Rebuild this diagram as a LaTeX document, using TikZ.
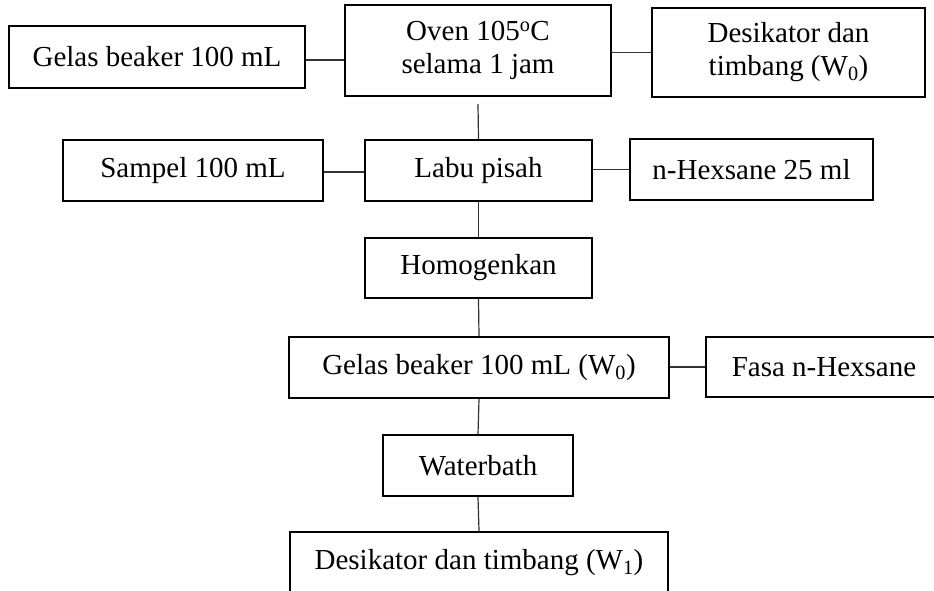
\documentclass[tikz,border=0pt]{standalone}
\usepackage{fontspec}
\setmainfont{Liberation Serif}
\begin{document}
\begin{tikzpicture}[x=1pt,y=-1pt,
  box/.style={draw, line width=2.4pt, inner sep=0pt, font=\fontsize{29}{33}\selectfont, align=center},
  conn/.style={line width=1.2pt, draw=black!80}]
\clip (0,0) rectangle (934,591);
\path[use as bounding box] (0,0) rectangle (934,591);
% row 1
\node[box, minimum width=296pt, minimum height=62pt] (g1) at (157,57) {Gelas beaker 100 mL};
\node[box, minimum width=266pt, minimum height=91pt] (oven) at (478,50.5) {Oven 105\textsuperscript{o}C\\selama 1 jam};
\node[box, minimum width=273pt, minimum height=89pt] (des0) at (788.5,52.5) {Desikator dan\\timbang (W\textsubscript{0})};
% row 2
\node[box, minimum width=260pt, minimum height=61pt] (sampel) at (193,170.5) {Sampel 100 mL};
\node[box, minimum width=227pt, minimum height=61pt] (labu) at (478.5,170.5) {Labu pisah};
\node[box, minimum width=243pt, minimum height=61pt] (hex) at (751.5,169.5) {n-Hexsane 25 ml};
% row 3
\node[box, minimum width=227pt, minimum height=60pt] (homo) at (478.5,268) {Homogenkan};
% row 4
\node[box, minimum width=380pt, minimum height=61pt] (gw0) at (479,367.5) {Gelas beaker 100 mL (W\textsubscript{0})};
\node[box, minimum width=236pt, minimum height=60pt] (fasa) at (824,367) {Fasa n-Hexsane};
% row 5
\node[box, minimum width=190pt, minimum height=61pt] (water) at (478,465.5) {Waterbath};
% row 6
\node[box, minimum width=378pt, minimum height=61pt] (desw1) at (479,562.5) {Desikator dan timbang (W\textsubscript{1})};
% connectors
\draw[conn] ([yshift=-3pt]g1.east) -- ([yshift=-3pt]g1.east -| oven.west);
\draw[conn] (des0.west) -- (des0.west -| oven.east);
\draw[conn] ([yshift=-7pt]oven.south) -- (labu.north);
\draw[conn] ([yshift=-1.5pt]sampel.east) -- ([yshift=-1.5pt]sampel.east -| labu.west);
\draw[conn] (hex.west) -- (hex.west -| labu.east);
\draw[conn] (labu.south) -- (homo.north);
\draw[conn] (homo.south) -- (gw0.north);
\draw[conn] (fasa.west) -- (fasa.west -| gw0.east);
\draw[conn] (gw0.south) -- (water.north);
\draw[conn] (water.south) -- (desw1.north);
\end{tikzpicture}
\end{document}
